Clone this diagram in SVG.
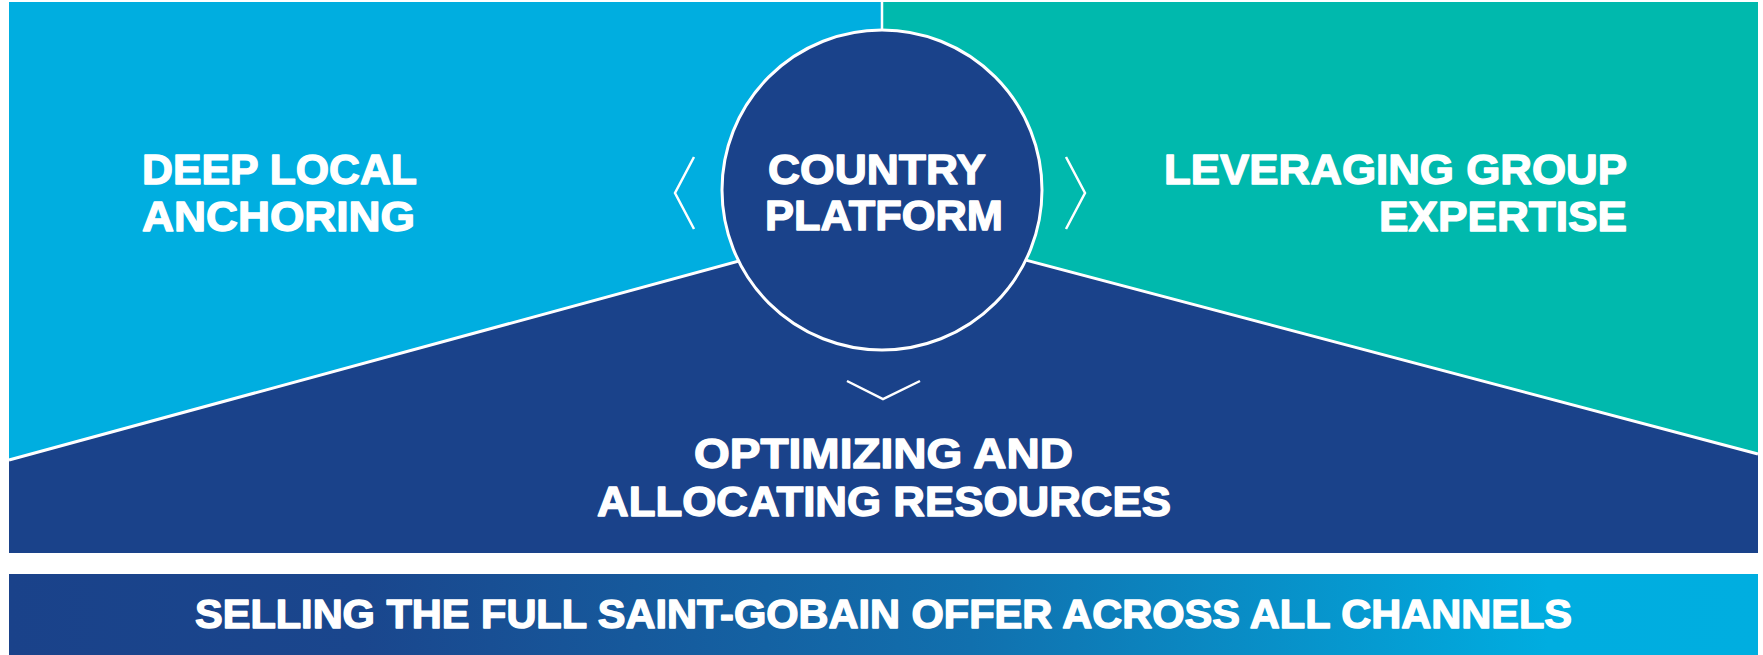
<svg xmlns="http://www.w3.org/2000/svg" width="1763" height="655" viewBox="0 0 1763 655">
  <defs>
    <linearGradient id="bandGrad" x1="9" y1="0" x2="1758" y2="0" gradientUnits="userSpaceOnUse">
      <stop offset="0" stop-color="#1A428A"/>
      <stop offset="0.2" stop-color="#1A468D"/>
      <stop offset="0.55" stop-color="#1170AE"/>
      <stop offset="0.88" stop-color="#00ADE0"/>
      <stop offset="1" stop-color="#00AEE0"/>
    </linearGradient>
  </defs>
  <style>
    .lbl { font-family: "Liberation Sans", Arial, sans-serif; font-weight: bold; fill: #FFFFFF; stroke: #FFFFFF; stroke-width: 1.4; stroke-linejoin: round; }
    .chev { fill: none; stroke: #FFFFFF; stroke-width: 2.5; stroke-linecap: butt; stroke-linejoin: miter; }
    .edge { fill: none; stroke: #FFFFFF; stroke-width: 3; }
  </style>
  <rect x="0" y="0" width="1763" height="655" fill="#FFFFFF"/>

  <g id="node-local">
    <rect x="9" y="2" width="873" height="551" fill="#00AEE0"/>
    <text class="lbl" x="142" y="184" font-size="43" textLength="275" lengthAdjust="spacingAndGlyphs">DEEP LOCAL</text>
    <text class="lbl" x="142" y="231" font-size="43" textLength="273" lengthAdjust="spacingAndGlyphs">ANCHORING</text>
  </g>

  <g id="node-group">
    <rect x="883" y="2" width="875" height="551" fill="#00B9AD"/>
    <line x1="882" y1="2" x2="882" y2="60" stroke="#FFFFFF" stroke-width="2.5"/>
    <text class="lbl" x="1164" y="184" font-size="43" textLength="463" lengthAdjust="spacingAndGlyphs">LEVERAGING GROUP</text>
    <text class="lbl" x="1379" y="231" font-size="43" textLength="248" lengthAdjust="spacingAndGlyphs">EXPERTISE</text>
  </g>

  <g id="node-resources">
    <polygon points="9,460 882,222 1758,454 1758,553 9,553" fill="#1A428A"/>
    <polyline class="edge" points="9,460 882,222 1758,454"/>
    <text class="lbl" x="694" y="468" font-size="42" textLength="379" lengthAdjust="spacingAndGlyphs">OPTIMIZING AND</text>
    <text class="lbl" x="597" y="516" font-size="42" textLength="574" lengthAdjust="spacingAndGlyphs">ALLOCATING RESOURCES</text>
  </g>

  <g id="node-platform">
    <circle cx="882" cy="190" r="160" fill="#1A428A" stroke="#FFFFFF" stroke-width="3"/>
    <text class="lbl" x="768" y="184" font-size="43" textLength="218" lengthAdjust="spacingAndGlyphs">COUNTRY</text>
    <text class="lbl" x="765" y="230" font-size="43" textLength="238" lengthAdjust="spacingAndGlyphs">PLATFORM</text>
  </g>

  <g id="node-selling">
    <rect x="9" y="574" width="1749" height="81" fill="url(#bandGrad)"/>
    <text class="lbl" x="195" y="628" font-size="40" textLength="1377" lengthAdjust="spacingAndGlyphs">SELLING THE FULL SAINT-GOBAIN OFFER ACROSS ALL CHANNELS</text>
  </g>

  <g id="connectors">
    <polyline class="chev" points="694,157 675,193 694,229"/>
    <polyline class="chev" points="1066,157 1085,193 1066,229"/>
    <polyline class="chev" points="847,381 883,399 920,381"/>
  </g>
</svg>
